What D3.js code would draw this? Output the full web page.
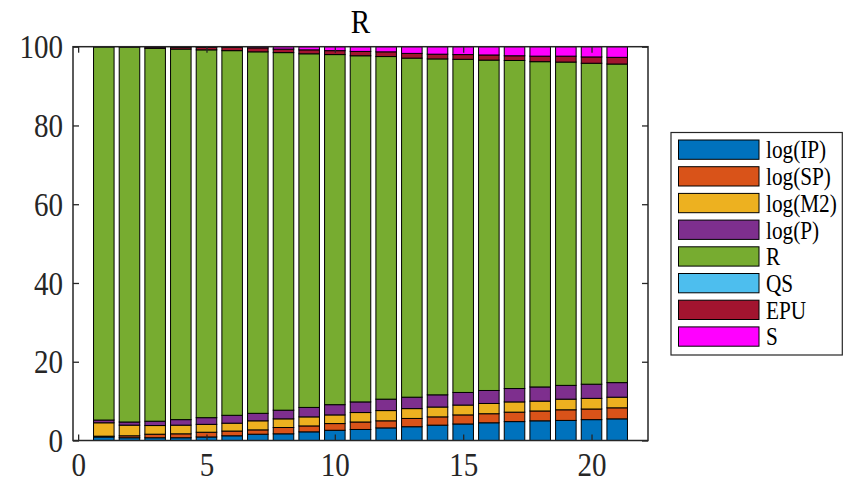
<!DOCTYPE html>
<html><head><meta charset="utf-8">
<script src="https://cdn.jsdelivr.net/npm/d3@7"></script>
<style>body{margin:0;background:#fff}svg{display:block}</style>
</head><body>
<script>
const periods = d3.range(1, 22);
const seriesNames = ["log(IP)", "log(SP)", "log(M2)", "log(P)", "R", "QS", "EPU", "S"];
const seriesColors = ["#0072BD", "#D95319", "#EDB120", "#7E2F8E", "#77AC30", "#4DBEEE", "#A2142F", "#FF00FF"];
const IP  = [0.9,0.7,0.7,0.7,0.9,1.2,1.6,1.7,2.2,2.6,2.8,3.2,3.5,3.9,4.2,4.5,4.8,5.0,5.1,5.3,5.5];
const SP  = [0.2,0.5,0.9,1.0,1.2,1.2,1.1,1.6,1.5,1.7,1.9,1.8,2.1,2.1,2.3,2.3,2.4,2.5,2.7,2.7,2.8];
const M2  = [3.4,2.7,2.2,2.2,2.0,2.0,2.3,2.2,2.3,2.2,2.4,2.6,2.5,2.5,2.5,2.6,2.6,2.5,2.7,2.7,2.7];
const P   = [0.7,0.8,1.1,1.4,1.7,2.0,1.9,2.2,2.4,2.6,2.7,2.9,2.9,3.1,3.2,3.3,3.4,3.6,3.5,3.6,3.7];
const R   = [94.75,95.2,94.7,94.1,93.4,92.6,91.8,90.8,89.8,88.9,87.9,87.0,86.1,85.3,84.6,83.9,83.3,82.6,82.1,81.5,80.9];
const QS  = [0,0,0,0,0,0,0,0,0,0,0,0,0,0,0,0,0,0,0,0,0];
const EPU = [0.05,0.1,0.3,0.4,0.6,0.8,1.0,0.9,1.0,1.0,1.1,1.2,1.2,1.2,1.2,1.3,1.2,1.4,1.5,1.6,1.7];
const S   = [0,0,0.1,0.2,0.2,0.2,0.3,0.6,0.8,1.0,1.2,1.3,1.7,1.9,2.0,2.1,2.3,2.4,2.4,2.6,2.7];
const xTicks = [0, 5, 10, 15, 20];
const yTicks = [0, 20, 40, 60, 80, 100];
const titleText = "R";

const seriesData = [IP, SP, M2, P, R, QS, EPU, S];
const rows = periods.map((p, i) => {
  const o = {period: p};
  seriesNames.forEach((n, k) => o[n] = seriesData[k][i]);
  return o;
});

const W = 843, H = 491;
const pL = 73, pR = 648, pT = 46.7, pB = 440.5;
const font = "'Liberation Serif','Times New Roman',serif";
const axCol = "#262626";
const sxT = 0.88;   // horizontal squeeze for tick/title text
const sxL = 0.85;   // for legend text

const svg = d3.select("body").append("svg").attr("width", W).attr("height", H);

const x = d3.scaleLinear().domain([-0.2, 22.2]).range([pL, pR]);
const y = d3.scaleLinear().domain([0, 100]).range([pB, pT]);
const bw = x(0.8) - x(0);

const stack = d3.stack().keys(seriesNames);
const layers = stack(rows);

const g = svg.append("g");
g.selectAll("g.layer").data(layers).join("g").attr("class", "layer")
  .attr("fill", (d, i) => seriesColors[i])
  .selectAll("rect").data(d => d.filter(s => s[1] - s[0] > 0)).join("rect")
  .attr("x", d => x(d.data.period) - bw / 2)
  .attr("width", bw)
  .attr("y", d => y(d[1]))
  .attr("height", d => y(d[0]) - y(d[1]))
  .attr("stroke", "#000").attr("stroke-width", 1);

// axes
const tl = 6;
const axB = svg.append("g").attr("transform", `translate(0,${pB})`)
  .call(d3.axisBottom(x).tickValues(xTicks).tickSizeInner(-tl).tickSizeOuter(0).tickPadding(12));
const axT = svg.append("g").attr("transform", `translate(0,${pT})`)
  .call(d3.axisTop(x).tickValues(xTicks).tickSizeInner(-tl).tickSizeOuter(0).tickFormat(""));
const axL = svg.append("g").attr("transform", `translate(${pL},0)`)
  .call(d3.axisLeft(y).tickValues(yTicks).tickSizeInner(-tl).tickSizeOuter(0));
const axR = svg.append("g").attr("transform", `translate(${pR},0)`)
  .call(d3.axisRight(y).tickValues(yTicks).tickSizeInner(-tl).tickSizeOuter(0).tickFormat(""));
[axB, axT, axL, axR].forEach(a => {
  a.select(".domain").remove();
  a.selectAll(".tick line").attr("stroke", axCol).attr("stroke-width", 1.3);
  a.selectAll("text").attr("fill", axCol).style("font-family", font).style("font-size", "33px")
    .attr("transform", `scale(${sxT},1)`);
});
axB.selectAll("text").attr("dy", "0.71em");
axL.selectAll("text").attr("dy", "0.34em").attr("x", -10 / sxT);

svg.append("rect").attr("x", pL).attr("y", pT).attr("width", pR - pL).attr("height", pB - pT)
  .attr("fill", "none").attr("stroke", axCol).attr("stroke-width", 1.5);

svg.append("text").attr("transform", `translate(${(pL + pR) / 2},33) scale(${sxT},1)`)
  .attr("text-anchor", "middle")
  .style("font-family", font).style("font-size", "33px").attr("fill", "#000").text(titleText);

// legend
const lg = svg.append("g");
lg.append("rect").attr("x", 671).attr("y", 132.5).attr("width", 171.3).attr("height", 222.5)
  .attr("fill", "#fff").attr("stroke", "#262626").attr("stroke-width", 1.2);
const step = 26.7;
seriesNames.forEach((n, i) => {
  const yy = 140 + i * step;
  lg.append("rect").attr("x", 678.5).attr("y", yy).attr("width", 80.5).attr("height", 19.3)
    .attr("fill", seriesColors[i]).attr("stroke", "#000").attr("stroke-width", 1);
  lg.append("text").attr("transform", `translate(766,${yy + 9.7}) scale(${sxL},1)`).attr("dy", "0.35em")
    .style("font-family", font).style("font-size", "25px").attr("fill", "#000").text(n);
});
</script>
</body></html>
